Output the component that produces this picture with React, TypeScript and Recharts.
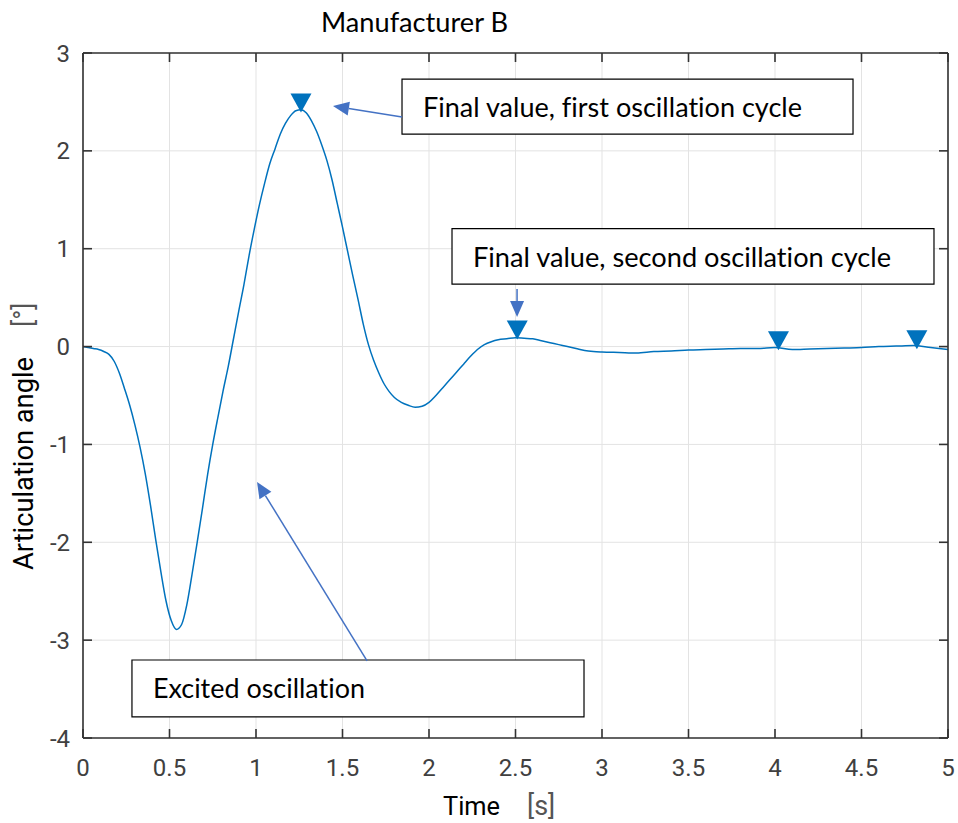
import React from 'react';
import {
  ComposedChart,
  Line,
  Scatter,
  XAxis,
  YAxis,
  CartesianGrid,
  ReferenceArea,
  ReferenceLine,
} from 'recharts';

// ---- data ----
const timeS = [
  0, 0.03, 0.06, 0.09, 0.12, 0.15, 0.18, 0.21, 0.24, 0.27, 0.3, 0.33, 0.36, 0.39, 0.42, 0.45, 0.48,
  0.51, 0.54, 0.57, 0.6, 0.63, 0.66, 0.69, 0.72, 0.75, 0.78, 0.81, 0.84, 0.87, 0.9, 0.93, 0.96,
  0.99, 1.02, 1.05, 1.08, 1.11, 1.14, 1.17, 1.2, 1.23, 1.26, 1.29, 1.32, 1.35, 1.38, 1.41, 1.44,
  1.47, 1.5, 1.53, 1.56, 1.59, 1.62, 1.65, 1.68, 1.71, 1.74, 1.77, 1.8, 1.84, 1.88, 1.92, 1.96,
  2.0, 2.04, 2.08, 2.12, 2.16, 2.2, 2.24, 2.28, 2.32, 2.36, 2.4, 2.45, 2.5, 2.55, 2.6, 2.65, 2.7,
  2.75, 2.8, 2.85, 2.9, 2.95, 3.0, 3.1, 3.2, 3.3, 3.4, 3.5, 3.6, 3.7, 3.8, 3.9, 4.0, 4.1, 4.2,
  4.3, 4.4, 4.5, 4.6, 4.7, 4.8, 4.9, 5.0,
];
const angleDeg = [
  0, -0.01, -0.02, -0.03, -0.05, -0.08, -0.15, -0.27, -0.43, -0.6, -0.8, -1.03, -1.3, -1.62,
  -1.97, -2.3, -2.6, -2.8, -2.89, -2.84, -2.64, -2.33, -2.0, -1.66, -1.31, -1.0, -0.72, -0.45,
  -0.2, 0.08, 0.36, 0.63, 0.93, 1.2, 1.45, 1.67, 1.87, 2.02, 2.17, 2.28, 2.36, 2.41, 2.42, 2.39,
  2.31, 2.2, 2.06, 1.9, 1.7, 1.46, 1.22, 0.97, 0.72, 0.48, 0.23, 0.02, -0.14, -0.27, -0.38,
  -0.46, -0.52, -0.57, -0.6, -0.62, -0.61, -0.57, -0.5, -0.42, -0.34, -0.26, -0.18, -0.1, -0.03,
  0.02, 0.05, 0.07, 0.08, 0.09, 0.085, 0.08, 0.06, 0.04, 0.02, 0.0, -0.02, -0.04, -0.05, -0.055,
  -0.06, -0.065, -0.05, -0.045, -0.035, -0.03, -0.025, -0.02, -0.02, -0.01, -0.03, -0.025,
  -0.02, -0.015, -0.01, 0.0, 0.005, 0.01, -0.01, -0.03,
];
const xTicks = [0, 0.5, 1, 1.5, 2, 2.5, 3, 3.5, 4, 4.5, 5];
const yTicks = [-4, -3, -2, -1, 0, 1, 2, 3];
const markerTimes = [1.26, 2.51, 4.02, 4.82];
const markerValues = [2.49, 0.17, 0.06, 0.07];

const titleText = 'Manufacturer B';
const xLabelMain = 'Time';
const xLabelUnit = '[s]';
const yLabelMain = 'Articulation angle';
const yLabelUnit = '[°]';

const boxTexts = [
  'Final value, first oscillation cycle',
  'Final value, second oscillation cycle',
  'Excited oscillation',
];
// boxes in data coordinates
const boxT1 = [1.844, 2.133, 0.283];
const boxT2 = [4.451, 4.919, 2.896];
const boxV1 = [2.733, 1.205, -3.203];
const boxV2 = [2.172, 0.639, -3.785];
const boxTextLen = [379, 418, 212];
// arrows in data coordinates: start (t, v) -> tip (t, v)
const arrowStartT = [1.844, 2.509, 1.642];
const arrowStartV = [2.345, 0.588, -3.212];
const arrowTipT = [1.445, 2.509, 1.006];
const arrowTipV = [2.458, 0.302, -1.383];

const series = timeS.map((t, i) => ({ t, v: angleDeg[i] }));
const markers = markerTimes.map((t, i) => ({ t, v: markerValues[i] }));

const LINE_BLUE = '#0072BD';
const ARROW_BLUE = '#4472C4';
const AXIS = '#333333';
const TICK_FONT = 'Roboto, "Liberation Sans", Arial, sans-serif';
const TEXT_FONT = 'Lato, "Open Sans", sans-serif';
const NO_LIGA = { fontVariantLigatures: 'none' as const };

const Triangle = (p: any) => {
  const { cx, cy } = p;
  if (cx == null || cy == null) return null;
  return (
    <polygon
      points={`${cx - 10.5},${cy - 9.5} ${cx + 10.5},${cy - 9.5} ${cx},${cy + 9.5}`}
      fill={LINE_BLUE}
    />
  );
};

const Arrow = (p: any) => {
  const { x1, y1, x2, y2 } = p;
  const dx = x2 - x1;
  const dy = y2 - y1;
  const len = Math.hypot(dx, dy) || 1;
  const ux = dx / len;
  const uy = dy / len;
  const hl = 16;
  const hw = 7;
  const bx = x2 - ux * hl;
  const by = y2 - uy * hl;
  return (
    <g>
      <line x1={x1} y1={y1} x2={bx} y2={by} stroke={ARROW_BLUE} strokeWidth={1.5} />
      <polygon
        points={`${x2},${y2} ${bx - uy * hw},${by + ux * hw} ${bx + uy * hw},${by - ux * hw}`}
        fill={ARROW_BLUE}
      />
    </g>
  );
};

const makeBoxLabel = (text: string, len: number) => (props: any) => {
  const vb = props.viewBox || {};
  return (
    <text
      x={vb.x + 21}
      y={vb.y + 38}
      fontFamily={TEXT_FONT}
      fontSize={26}
      fill="#000"
      textLength={len}
      lengthAdjust="spacingAndGlyphs"
      style={NO_LIGA}
    >
      {text}
    </text>
  );
};

const XLabel = () => (
  <g>
    <text x={443} y={815} fontFamily={TICK_FONT} fontSize={26} fill="#000" textLength={57} lengthAdjust="spacingAndGlyphs">
      {xLabelMain}
    </text>
    <text x={527} y={815} fontFamily={TICK_FONT} fontSize={27} fill="#555">
      {xLabelUnit}
    </text>
  </g>
);

const YLabel = () => (
  <g>
    <text
      x={33}
      y={570}
      transform="rotate(-90, 33, 570)"
      fontFamily={TICK_FONT}
      fontSize={27}
      fill="#000"
      textLength={213}
      lengthAdjust="spacingAndGlyphs"
    >
      {yLabelMain}
    </text>
    <text x={33} y={327} transform="rotate(-90, 33, 327)" fontFamily={TICK_FONT} fontSize={27} fill="#555">
      {yLabelUnit}
    </text>
  </g>
);

export default function App() {
  return (
    <div style={{ position: 'absolute', left: 0, top: 0, width: 958, height: 823, background: '#fff' }}>
      <ComposedChart
        width={958}
        height={823}
        data={series}
        margin={{ top: 43, right: 0, bottom: 55, left: 43 }}
      >
        <CartesianGrid xAxisId="b" yAxisId="l" stroke="#e3e3e3" strokeWidth={1} />
        <XAxis
          xAxisId="b"
          dataKey="t"
          type="number"
          domain={[0, 5]}
          ticks={xTicks}
          height={30}
          tickSize={-9}
          tickMargin={30}
          interval={0}
          allowDataOverflow
          stroke={AXIS}
          strokeWidth={1.6}
          tickLine={{ stroke: AXIS, strokeWidth: 1.6 }}
          tick={{ fill: '#404040', fontSize: 24, fontFamily: TICK_FONT }}
          label={<XLabel />}
        />
        <XAxis
          xAxisId="t"
          orientation="top"
          dataKey="t"
          type="number"
          domain={[0, 5]}
          ticks={xTicks}
          height={10}
          tickSize={-9}
          interval={0}
          allowDataOverflow
          stroke={AXIS}
          strokeWidth={1.6}
          tickLine={{ stroke: AXIS, strokeWidth: 1.6 }}
          tickFormatter={() => ''}
        />
        <YAxis
          yAxisId="l"
          type="number"
          domain={[-4, 3]}
          ticks={yTicks}
          width={40}
          tickSize={-9}
          tickMargin={22}
          interval={0}
          allowDataOverflow
          stroke={AXIS}
          strokeWidth={1.6}
          tickLine={{ stroke: AXIS, strokeWidth: 1.6 }}
          tick={{ fill: '#404040', fontSize: 24, fontFamily: TICK_FONT }}
          label={<YLabel />}
        />
        <YAxis
          yAxisId="r"
          orientation="right"
          type="number"
          domain={[-4, 3]}
          ticks={yTicks}
          width={10}
          tickSize={-9}
          interval={0}
          allowDataOverflow
          stroke={AXIS}
          strokeWidth={1.6}
          tickLine={{ stroke: AXIS, strokeWidth: 1.6 }}
          tickFormatter={() => ''}
        />
        <Line
          xAxisId="b"
          yAxisId="l"
          dataKey="v"
          type="monotone"
          stroke={LINE_BLUE}
          strokeWidth={1.5}
          dot={false}
          activeDot={false}
          isAnimationActive={false}
        />
        <Scatter
          xAxisId="b"
          yAxisId="l"
          data={markers}
          dataKey="v"
          shape={Triangle}
          isAnimationActive={false}
        />
        {boxTexts.map((txt, i) => (
          <ReferenceArea
            key={`box-${i}`}
            xAxisId="b"
            yAxisId="l"
            x1={boxT1[i]}
            x2={boxT2[i]}
            y1={boxV2[i]}
            y2={boxV1[i]}
            fill="#fff"
            fillOpacity={1}
            stroke="#000"
            strokeWidth={1.2}
            strokeOpacity={1}
            label={makeBoxLabel(txt, boxTextLen[i])}
          />
        ))}
        {arrowStartT.map((t, i) => (
          <ReferenceLine
            key={`arrow-${i}`}
            xAxisId="b"
            yAxisId="l"
            segment={[
              { x: t, y: arrowStartV[i] },
              { x: arrowTipT[i], y: arrowTipV[i] },
            ]}
            shape={Arrow}
          />
        ))}
        <text
          x={321}
          y={32}
          fontFamily={TEXT_FONT}
          fontSize={27}
          fill="#000"
          textLength={187}
          lengthAdjust="spacingAndGlyphs"
          style={NO_LIGA}
        >
          {titleText}
        </text>
      </ComposedChart>
    </div>
  );
}
